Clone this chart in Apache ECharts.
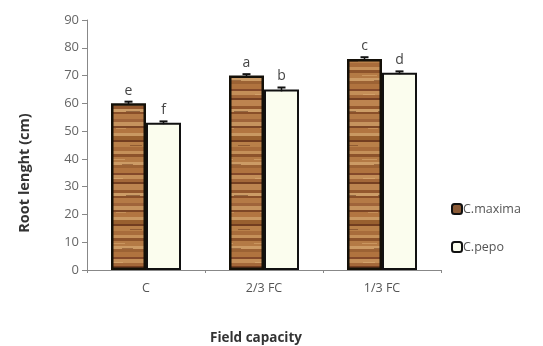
<!DOCTYPE html>
<html>
<head>
<meta charset="utf-8">
<script src="https://cdn.jsdelivr.net/npm/echarts@6/dist/echarts.min.js"></script>
<style>
  html, body { margin: 0; padding: 0; background: #ffffff; }
  #chart { width: 543px; height: 346px; }
</style>
</head>
<body>
<div id="chart"></div>
<script>
// Root length under three field-capacity levels
const categories = ['C', '2/3 FC', '1/3 FC'];
const maximaValues = [60, 70, 76];
const pepoValues = [53, 65, 71];
const maximaErrors = [0.6, 0.5, 0.6];
const pepoErrors = [0.5, 0.7, 0.5];
const maximaLetters = ['e', 'a', 'c'];
const pepoLetters = ['f', 'b', 'd'];
const yTicks = [0, 10, 20, 30, 40, 50, 60, 70, 80, 90];

const FONT = '"Open Sans", sans-serif';

// Wood-grain fill: irregular horizontal bands of brown and tan tones
function woodPattern() {
  const bands = [
    ['#b0733f', 5], ['#84492a', 2], ['#c48e58', 4], ['#a4683a', 3], ['#764022', 2],
    ['#bd8450', 6], ['#94582e', 3], ['#cc9c66', 3], ['#8a4f29', 2], ['#b57a46', 5],
    ['#a0643a', 3], ['#c6935e', 4], ['#7e4726', 2], ['#b27541', 5], ['#c99862', 3],
    ['#99602f', 4], ['#733e20', 2], ['#b98049', 5], ['#a86c3b', 4], ['#c59059', 3],
    ['#8d532b', 3], ['#b47a45', 5], ['#cc9b65', 3], ['#9c6234', 3]
  ];
  const total = bands.reduce((s, b) => s + b[1], 0);
  const c = document.createElement('canvas');
  c.width = 36; c.height = total;
  const g = c.getContext('2d');
  let y = 0;
  bands.forEach(([col, h]) => { g.fillStyle = col; g.fillRect(0, y, 36, h); y += h; });
  // faint grain streaks
  const streaks = [[3, 10, 12, '#e0b47c'], [18, 27, 14, '#5e321a'], [8, 44, 10, '#d8aa72'],
                   [22, 61, 12, '#6a381d'], [2, 75, 15, '#deb078'], [14, 80, 11, '#734020']];
  g.globalAlpha = 0.5;
  streaks.forEach(([x, sy, w, col]) => { g.fillStyle = col; g.fillRect(x, sy, w, 1); });
  g.globalAlpha = 1;
  return c;
}
const wood = { image: woodPattern(), repeat: 'repeat' };

const chart = echarts.init(document.getElementById('chart'));

function errorSeries(values, errors, letters, side) {
  return {
    type: 'custom',
    z: 10,
    renderItem: function (params, api) {
      const idx = params.dataIndex;
      const v = api.value(1);
      const e = api.value(2);
      const base = api.coord([idx, 0]);
      const barW = 35;
      const cx = base[0] + (side === 0 ? -barW / 2 : barW / 2);
      const top = api.coord([idx, v + e]);
      const bot = api.coord([idx, v - e]);
      return {
        type: 'group',
        children: [
          { type: 'line', shape: { x1: cx, y1: top[1], x2: cx, y2: bot[1] }, style: { stroke: '#111', lineWidth: 1.5 } },
          { type: 'line', shape: { x1: cx - 4, y1: top[1], x2: cx + 4, y2: top[1] }, style: { stroke: '#111', lineWidth: 2 } },
          { type: 'text', style: { x: cx, y: top[1] - 4, text: letters[idx], textAlign: 'center', textVerticalAlign: 'bottom',
            font: '14px ' + FONT, fill: '#444' } }
        ]
      };
    },
    data: values.map((v, i) => [i, v, errors[i]])
  };
}

chart.setOption({
  animation: false,
  backgroundColor: '#ffffff',
  grid: { left: 87, right: 102, top: 20, bottom: 76, containLabel: false, outerBoundsMode: 'none' },
  legend: {
    orient: 'vertical',
    left: 446,
    top: 196,
    itemWidth: 10,
    itemHeight: 10,
    itemGap: 22,
    textStyle: { fontFamily: FONT, fontSize: 12.5, lineHeight: 16, color: '#555', padding: [0, 0, 0, -4] },
    data: [
      { name: 'C.maxima', itemStyle: { color: '#8a5a36', borderColor: '#111', borderWidth: 2 } },
      { name: 'C.pepo', itemStyle: { color: '#fbfdee', borderColor: '#111', borderWidth: 2 } }
    ]
  },
  graphic: [
    {
      type: 'text',
      x: 25, y: 173,
      rotation: Math.PI / 2,
      style: { text: 'Root lenght (cm)', font: 'bold 14.5px ' + FONT, fill: '#333', textAlign: 'center', textVerticalAlign: 'middle' }
    }
  ],
  xAxis: {
    type: 'category',
    data: categories,
    name: 'Field capacity',
    nameLocation: 'middle',
    nameGap: 61,
    nameTextStyle: { fontFamily: FONT, fontSize: 13.5, fontWeight: 'bold', color: '#333', padding: [0, 16, 0, 0] },
    axisLine: { lineStyle: { color: '#888', width: 1 } },
    axisTick: { show: true, length: 3, lineStyle: { color: '#888' } },
    axisLabel: { fontFamily: FONT, fontSize: 12.5, color: '#555', margin: 12 }
  },
  yAxis: {
    type: 'value',
    min: 0,
    max: 90,
    interval: 10,
    axisLine: { show: true, lineStyle: { color: '#888' } },
    axisTick: { show: true, length: 5, lineStyle: { color: '#888' } },
    splitLine: { show: false },
    axisLabel: {
      fontFamily: FONT, fontSize: 13, color: '#666', margin: 8,
      formatter: function (v) { return yTicks.indexOf(v) >= 0 ? String(v) : ''; }
    }
  },
  series: [
    {
      name: 'C.maxima',
      type: 'bar',
      barWidth: 35,
      barGap: '0%',
      data: maximaValues,
      itemStyle: { color: wood, borderColor: '#141008', borderWidth: 2.5 }
    },
    {
      name: 'C.pepo',
      type: 'bar',
      barWidth: 35,
      barGap: '0%',
      data: pepoValues,
      itemStyle: { color: '#fbfdee', borderColor: '#111', borderWidth: 2 }
    },
    errorSeries(maximaValues, maximaErrors, maximaLetters, 0),
    errorSeries(pepoValues, pepoErrors, pepoLetters, 1)
  ]
});
</script>
</body>
</html>
